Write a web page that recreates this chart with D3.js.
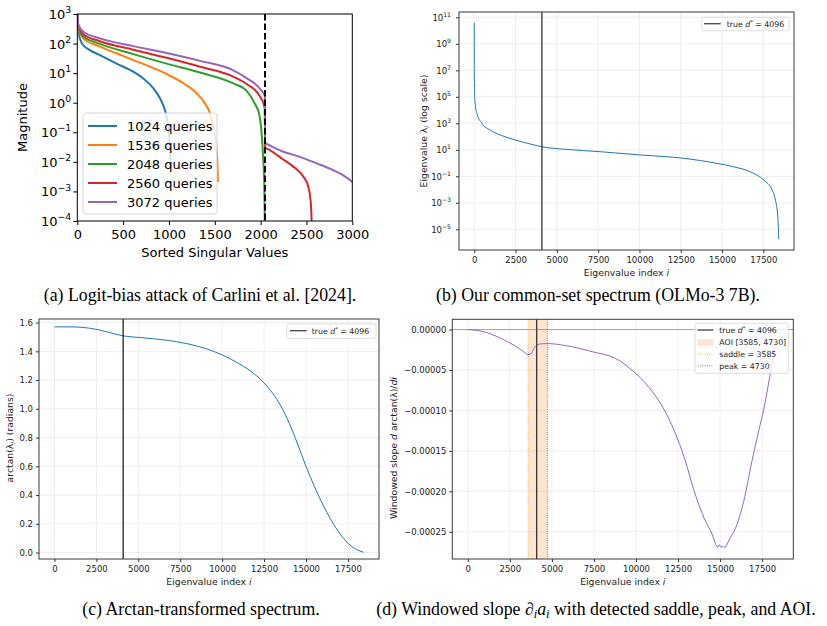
<!DOCTYPE html>
<html><head><meta charset="utf-8">
<script src="https://cdn.jsdelivr.net/npm/d3@7"></script>
<style>
body{margin:0;background:#fff}
svg{display:block}
text{font-family:"DejaVu Sans",sans-serif}
</style>
</head><body><script>
// ---------------- DATA ----------------
// Panel (a): Logit-bias attack, singular values vs index
const aXTicks = [0, 500, 1000, 1500, 2000, 2500, 3000];
const aYExps = [3, 2, 1, 0, -1, -2, -3, -4];
const aNames = ["1024 queries", "1536 queries", "2048 queries", "2560 queries", "3072 queries"];
const aColors = ["#1f77b4", "#ff7f0e", "#2ca02c", "#d62728", "#9467bd"];
const aThreshold = 2048;
const a1024 = [[0,1100],[4,420],[15,225],[47,105],[138,60],[247,41],[429,21],[611,11.2],[720,6.6],[829,3.1],[902,1.41],[956,0.56],[982,0.26],[1000,0.091],[1011,0.025],[1023,0.0063]];
const a1536 = [[0,1100],[4,460],[15,290],[65,150],[247,79],[429,47],[611,27.5],[793,16.6],[975,9.3],[1156,4.6],[1302,2.1],[1393,0.95],[1447,0.44],[1484,0.155],[1513,0.043],[1527,0.0115],[1535,0.0021]];
const a2048 = [[0,1100],[4,500],[15,330],[65,172],[247,98],[611,44],[975,21],[1338,10.5],[1702,4.5],[1847,2.5],[1931,1.0],[1985,0.4],[2011,0.091],[2029,0.0115],[2040,0.00145],[2047,0.00005]];
const a2560 = [[0,1100],[4,540],[15,375],[65,205],[247,120],[611,62],[975,33],[1338,16.5],[1702,7.6],[1847,4.3],[2000,1.5],[2045,0.65],[2049,0.031],[2100,0.025],[2247,0.012],[2356,0.0069],[2465,0.0032],[2520,0.00145],[2545,0.0005],[2556,0.0001],[2559,0.00003]];
const a3072 = [[0,1100],[4,600],[15,420],[65,250],[247,150],[611,82],[975,48],[1338,26],[1702,12.5],[1847,6.8],[2000,2.8],[2045,1.7],[2049,0.045],[2100,0.036],[2247,0.022],[2429,0.0148],[2611,0.0089],[2793,0.0052],[2902,0.0035],[3000,0.0021],[3072,0.0012]];
const aSeries = [a1024, a1536, a2048, a2560, a3072];

// Shared x ticks for (b),(c),(d)
const eigXTicks = [0, 2500, 5000, 7500, 10000, 12500, 15000, 17500];
const eigN = 18432;
const trueD = 4096;

// Panel (b): eigenvalue spectrum (log scale)
const bYExps = [11, 9, 7, 5, 3, 1, -1, -3, -5];
const bSpectrum = [[0,3.9e10],[1,1e10],[4,1e7],[15,1e6],[40,5.6e4],[162,5.6e3],[464,1000],[969,309],[1575,132],[2483,55],[3392,27.5],[4099,17],[5613,10.7],[7632,7.2],[10055,4.1],[12679,2.3],[14698,0.95],[15708,0.52],[16717,0.22],[17525,0.052],[18030,0.0093],[18232,0.0016],[18373,0.000089],[18432,0.0000018]];

// Panel (c): arctan-transformed spectrum
const cYTicks = [0.0, 0.2, 0.4, 0.6, 0.8, 1.0, 1.2, 1.4, 1.6];
const cArctan = [[0,1.570],[1150,1.570],[2140,1.560],[2735,1.547],[3528,1.523],[4122,1.507],[5114,1.496],[6699,1.477],[7888,1.454],[9000,1.420],[10000,1.375],[11000,1.315],[12000,1.235],[12500,1.180],[13000,1.110],[13500,1.020],[14000,0.900],[14500,0.755],[15000,0.600],[15500,0.460],[16000,0.335],[16500,0.225],[17000,0.135],[17500,0.065],[18000,0.022],[18432,0.002]];

// Panel (d): windowed slope
const dYTicks = [0, -0.00005, -0.0001, -0.00015, -0.0002, -0.00025];
const dYLabels = ["0.00000", "\u22120.00005", "\u22120.00010", "\u22120.00015", "\u22120.00020", "\u22120.00025"];
const dSaddle = 3585, dPeak = 4730;
const dSlope = [[0,0],[995,-0.0000029],[1989,-0.0000111],[2750,-0.0000194],[3335,-0.0000276],[3565,-0.0000309],[3764,-0.0000297],[3920,-0.0000235],[4156,-0.0000185],[4400,-0.0000176],[4746,-0.0000173],[5870,-0.0000200],[6700,-0.0000235],[7430,-0.0000275],[8795,-0.0000358],[9770,-0.0000503],[10745,-0.0000708],[11525,-0.0000935],[12305,-0.0001265],[12890,-0.0001594],[13475,-0.0002006],[14060,-0.0002336],[14547,-0.0002541],[14750,-0.000266],[14850,-0.0002695],[14950,-0.000266],[15050,-0.000269],[15200,-0.0002685],[15327,-0.000269],[15450,-0.000264],[15620,-0.000257],[15912,-0.0002459],[16400,-0.000213],[16887,-0.0001635],[17300,-0.000125],[17585,-0.0000997],[18086,-0.000042],[18300,-0.000016]];

// ---------------- DRAW ----------------
const W = 827, H = 626;
const svg = d3.select("body").append("svg").attr("width", W).attr("height", H);
const defs = svg.append("defs");
let clipId = 0;
function clip(box){
  const id = "clip" + (clipId++);
  defs.append("clipPath").attr("id", id).append("rect")
    .attr("x", box.l).attr("y", box.t).attr("width", box.r - box.l).attr("height", box.b - box.t);
  return "url(#" + id + ")";
}
function supLabel(g, x, y, exp, fs, anchor){
  const t = g.append("text").attr("x", x).attr("y", y).attr("text-anchor", anchor || "end")
    .attr("font-size", fs).attr("fill", "#000");
  t.append("tspan").text("10");
  t.append("tspan").attr("font-size", fs * 0.72).attr("dy", -fs * 0.45)
    .text(String(exp).replace("-", "\u2212"));
  return t;
}

// ===== Panel (a) =====
(function(){
  const box = {l:77.3, r:352.3, t:14, b:221};
  const x = d3.scaleLinear().domain([0, 3000]).range([box.l, box.r]);
  const y = d3.scaleLog().domain([1e-4, 1e3]).range([box.b, box.t]);
  const g = svg.append("g");
  const plot = g.append("g").attr("clip-path", clip(box));
  const line = d3.line().x(d => x(d[0])).y(d => y(d[1])).curve(d3.curveMonotoneX);
  aSeries.forEach((s, i) => {
    plot.append("path").attr("d", line(s)).attr("fill", "none")
      .attr("stroke", aColors[i]).attr("stroke-width", 2);
  });
  plot.append("line").attr("x1", x(aThreshold)).attr("x2", x(aThreshold))
    .attr("y1", box.t).attr("y2", box.b).attr("stroke", "#000")
    .attr("stroke-width", 2).attr("stroke-dasharray", "6.5,3");
  g.append("rect").attr("x", box.l).attr("y", box.t).attr("width", box.r - box.l)
    .attr("height", box.b - box.t).attr("fill", "none").attr("stroke", "#000").attr("stroke-width", 1);
  const xa = g.append("g").attr("transform", `translate(0,${box.b})`)
    .call(d3.axisBottom(x).tickValues(aXTicks).tickSize(4).tickPadding(5).tickFormat(d3.format("d")));
  xa.select(".domain").remove();
  xa.selectAll("text").attr("font-size", 13).attr("font-family", "DejaVu Sans").attr("fill", "#000");
  const ya = g.append("g").attr("transform", `translate(${box.l},0)`)
    .call(d3.axisLeft(y).tickValues(aYExps.map(e => Math.pow(10, e))).tickSize(4).tickFormat(""));
  ya.select(".domain").remove();
  aYExps.forEach(e => supLabel(g, box.l - 6, y(Math.pow(10, e)) + 5, e, 13));
  g.append("text").attr("x", (box.l + box.r) / 2).attr("y", 257).attr("text-anchor", "middle")
    .attr("font-size", 13).text("Sorted Singular Values");
  g.append("text").attr("transform", `translate(26.5,${(box.t + box.b) / 2}) rotate(-90)`)
    .attr("text-anchor", "middle").attr("font-size", 13).text("Magnitude");
  const lg = g.append("g");
  lg.append("rect").attr("x", 83).attr("y", 113).attr("width", 134).attr("height", 101)
    .attr("rx", 3).attr("fill", "#fff").attr("fill-opacity", 0.8).attr("stroke", "#ccc").attr("stroke-width", 0.8);
  aNames.forEach((n, i) => {
    const yy = 126 + i * 19;
    lg.append("line").attr("x1", 88).attr("x2", 117).attr("y1", yy).attr("y2", yy)
      .attr("stroke", aColors[i]).attr("stroke-width", 2);
    lg.append("text").attr("x", 127).attr("y", yy + 4.7).attr("font-size", 13).text(n);
  });
})();

function eigPanel(box){
  const x = d3.scaleLinear().domain([-eigN * 0.05, eigN * 1.05]).range([box.l, box.r]);
  const g = svg.append("g");
  const grid = g.append("g");
  eigXTicks.forEach(t => grid.append("line").attr("x1", x(t)).attr("x2", x(t))
    .attr("y1", box.t).attr("y2", box.b).attr("stroke", "#ebebeb").attr("stroke-width", 0.8));
  return {x, g, grid};
}
function eigAxes(p, box, xLabelY){
  const {x, g} = p;
  g.append("rect").attr("x", box.l).attr("y", box.t).attr("width", box.r - box.l)
    .attr("height", box.b - box.t).attr("fill", "none").attr("stroke", "#3a3a3a").attr("stroke-width", 1);
  const xa = g.append("g").attr("transform", `translate(0,${box.b})`)
    .call(d3.axisBottom(x).tickValues(eigXTicks).tickSize(3).tickPadding(4).tickFormat(d3.format("d")));
  xa.select(".domain").remove();
  xa.selectAll("line").attr("stroke", "#333");
  xa.selectAll("text").attr("font-size", 8.5).attr("font-family", "DejaVu Sans").attr("fill", "#222");
  const xl = g.append("text").attr("x", (box.l + box.r) / 2).attr("y", xLabelY)
    .attr("text-anchor", "middle").attr("font-size", 9.3).attr("fill", "#222");
  xl.append("tspan").text("Eigenvalue index ");
  xl.append("tspan").attr("font-style", "italic").text("i");
}
function legendBox(g, bx, by, bw, bh){
  g.append("rect").attr("x", bx).attr("y", by).attr("width", bw).attr("height", bh)
    .attr("rx", 2).attr("fill", "#fff").attr("fill-opacity", 0.8).attr("stroke", "#d5d5d5").attr("stroke-width", 0.8);
}
function trueText(g, x, y){
  const t = g.append("text").attr("x", x).attr("y", y).attr("font-size", 7.8).attr("fill", "#222");
  t.append("tspan").text("true ");
  t.append("tspan").attr("font-style", "italic").text("d");
  t.append("tspan").attr("font-size", 5.5).attr("dy", -3).text("*");
  t.append("tspan").attr("dy", 3).text(" = " + trueD);
}

// ===== Panel (b) =====
(function(){
  const box = {l:459, r:794, t:12, b:250};
  const y = d3.scaleLog().domain([Math.pow(10, -6.56), Math.pow(10, 11.4)]).range([box.b, box.t]);
  const p = eigPanel(box);
  bYExps.forEach(e => p.grid.append("line").attr("x1", box.l).attr("x2", box.r)
    .attr("y1", y(Math.pow(10, e))).attr("y2", y(Math.pow(10, e))).attr("stroke", "#ebebeb").attr("stroke-width", 0.8));
  const plot = p.g.append("g").attr("clip-path", clip(box));
  const line = d3.line().x(d => p.x(d[0])).y(d => y(d[1])).curve(d3.curveMonotoneX);
  plot.append("path").attr("d", line(bSpectrum)).attr("fill", "none").attr("stroke", "#1f77b4").attr("stroke-width", 1);
  plot.append("line").attr("x1", p.x(trueD)).attr("x2", p.x(trueD)).attr("y1", box.t).attr("y2", box.b)
    .attr("stroke", "#333").attr("stroke-width", 1.3);
  eigAxes(p, box, 276);
  const ya = p.g.append("g").attr("transform", `translate(${box.l},0)`)
    .call(d3.axisLeft(y).tickValues(bYExps.map(e => Math.pow(10, e))).tickSize(3).tickFormat(""));
  ya.select(".domain").remove();
  ya.selectAll("line").attr("stroke", "#333");
  bYExps.forEach(e => supLabel(p.g, box.l - 8, y(Math.pow(10, e)) + 3.5, e, 8.5).attr("fill", "#222"));
  const yl = p.g.append("text").attr("transform", `translate(427,131) rotate(-90)`)
    .attr("text-anchor", "middle").attr("font-size", 9.3).attr("fill", "#222");
  yl.append("tspan").text("Eigenvalue \u03bb");
  yl.append("tspan").attr("font-style", "italic").attr("font-size", 6.5).attr("dy", 2).text("i");
  yl.append("tspan").attr("dy", -2).text(" (log scale)");
  legendBox(p.g, 701.7, 17.3, 87.6, 13.4);
  p.g.append("line").attr("x1", 704).attr("x2", 720.7).attr("y1", 23.7).attr("y2", 23.7).attr("stroke", "#444").attr("stroke-width", 1.3);
  trueText(p.g, 726.7, 26.6);
})();

// ===== Panel (c) =====
(function(){
  const box = {l:39, r:379, t:319, b:559};
  const y = d3.scaleLinear().domain([-0.045, 1.625]).range([box.b, box.t]);
  const p = eigPanel(box);
  cYTicks.forEach(v => p.grid.append("line").attr("x1", box.l).attr("x2", box.r)
    .attr("y1", y(v)).attr("y2", y(v)).attr("stroke", "#ebebeb").attr("stroke-width", 0.8));
  const plot = p.g.append("g").attr("clip-path", clip(box));
  const line = d3.line().x(d => p.x(d[0])).y(d => y(d[1])).curve(d3.curveMonotoneX);
  plot.append("path").attr("d", line(cArctan)).attr("fill", "none").attr("stroke", "#1f77b4").attr("stroke-width", 1);
  plot.append("line").attr("x1", p.x(trueD)).attr("x2", p.x(trueD)).attr("y1", box.t).attr("y2", box.b)
    .attr("stroke", "#222").attr("stroke-width", 1.3);
  eigAxes(p, box, 584.5);
  const ya = p.g.append("g").attr("transform", `translate(${box.l},0)`)
    .call(d3.axisLeft(y).tickValues(cYTicks).tickSize(3).tickPadding(3).tickFormat(d3.format(".1f")));
  ya.select(".domain").remove();
  ya.selectAll("line").attr("stroke", "#333");
  ya.selectAll("text").attr("font-size", 8.5).attr("font-family", "DejaVu Sans").attr("fill", "#222");
  const yl = p.g.append("text").attr("transform", `translate(13,438) rotate(-90)`)
    .attr("text-anchor", "middle").attr("font-size", 9.3).attr("fill", "#222");
  yl.append("tspan").text("arctan(\u03bb");
  yl.append("tspan").attr("font-style", "italic").attr("font-size", 6.5).attr("dy", 2).text("i");
  yl.append("tspan").attr("dy", -2).text(") (radians)");
  legendBox(p.g, 286.7, 324, 89.3, 14.3);
  p.g.append("line").attr("x1", 290).attr("x2", 306.7).attr("y1", 330.7).attr("y2", 330.7).attr("stroke", "#444").attr("stroke-width", 1.3);
  trueText(p.g, 311.7, 333.6);
})();

// ===== Panel (d) =====
(function(){
  const box = {l:452.3, r:793.3, t:319.3, b:559};
  const y = d3.scaleLinear().domain([-0.0002837, 0.0000127]).range([box.b, box.t]);
  const p = eigPanel(box);
  dYTicks.forEach(v => p.grid.append("line").attr("x1", box.l).attr("x2", box.r)
    .attr("y1", y(v)).attr("y2", y(v)).attr("stroke", "#ebebeb").attr("stroke-width", 0.8));
  const plot = p.g.append("g").attr("clip-path", clip(box));
  plot.append("rect").attr("x", p.x(dSaddle)).attr("y", box.t).attr("width", p.x(dPeak) - p.x(dSaddle))
    .attr("height", box.b - box.t).attr("fill", "#ff7f0e").attr("fill-opacity", 0.2);
  plot.append("line").attr("x1", box.l).attr("x2", box.r).attr("y1", y(0)).attr("y2", y(0))
    .attr("stroke", "#999").attr("stroke-width", 0.9);
  plot.append("line").attr("x1", p.x(dSaddle)).attr("x2", p.x(dSaddle)).attr("y1", box.t).attr("y2", box.b)
    .attr("stroke", "#d9c24a").attr("stroke-width", 1).attr("stroke-dasharray", "1,1.3");
  plot.append("line").attr("x1", p.x(dPeak)).attr("x2", p.x(dPeak)).attr("y1", box.t).attr("y2", box.b)
    .attr("stroke", "#c8645a").attr("stroke-width", 1).attr("stroke-dasharray", "1,1.3");
  const line = d3.line().x(d => p.x(d[0])).y(d => y(d[1])).curve(d3.curveMonotoneX);
  plot.append("path").attr("d", line(dSlope)).attr("fill", "none").attr("stroke", "#9467bd").attr("stroke-width", 1);
  plot.append("line").attr("x1", p.x(trueD)).attr("x2", p.x(trueD)).attr("y1", box.t).attr("y2", box.b)
    .attr("stroke", "#333").attr("stroke-width", 1.3);
  eigAxes(p, box, 584.5);
  const ya = p.g.append("g").attr("transform", `translate(${box.l},0)`)
    .call(d3.axisLeft(y).tickValues(dYTicks).tickSize(3).tickPadding(3).tickFormat((d, i) => dYLabels[i]));
  ya.select(".domain").remove();
  ya.selectAll("line").attr("stroke", "#333");
  ya.selectAll("text").attr("font-size", 8.5).attr("font-family", "DejaVu Sans").attr("fill", "#222");
  const yl = p.g.append("text").attr("transform", `translate(397,448) rotate(-90)`)
    .attr("text-anchor", "middle").attr("font-size", 9.3).attr("fill", "#222");
  yl.append("tspan").text("Windowed slope ");
  yl.append("tspan").attr("font-style", "italic").text("d");
  yl.append("tspan").text(" arctan(\u03bb)/");
  yl.append("tspan").attr("font-style", "italic").text("di");
  legendBox(p.g, 695, 323.3, 93.3, 50);
  const lx1 = 697.5, lx2 = 713.3, tx = 719.3;
  const rows = [330, 342.4, 354.2, 365.8];
  p.g.append("line").attr("x1", lx1).attr("x2", lx2).attr("y1", rows[0]).attr("y2", rows[0]).attr("stroke", "#444").attr("stroke-width", 1.3);
  trueText(p.g, tx, rows[0] + 2.8);
  p.g.append("rect").attr("x", lx1).attr("y", rows[1] - 3.3).attr("width", lx2 - lx1).attr("height", 6.6)
    .attr("fill", "#ff7f0e").attr("fill-opacity", 0.2);
  p.g.append("text").attr("x", tx).attr("y", rows[1] + 2.8).attr("font-size", 7.8).attr("fill", "#222").text(`AOI [${dSaddle}, ${dPeak}]`);
  p.g.append("line").attr("x1", lx1).attr("x2", lx2).attr("y1", rows[2]).attr("y2", rows[2])
    .attr("stroke", "#d9c24a").attr("stroke-width", 1).attr("stroke-dasharray", "1,1.3");
  p.g.append("text").attr("x", tx).attr("y", rows[2] + 2.8).attr("font-size", 7.8).attr("fill", "#222").text(`saddle = ${dSaddle}`);
  p.g.append("line").attr("x1", lx1).attr("x2", lx2).attr("y1", rows[3]).attr("y2", rows[3])
    .attr("stroke", "#c8645a").attr("stroke-width", 1).attr("stroke-dasharray", "1,1.3");
  p.g.append("text").attr("x", tx).attr("y", rows[3] + 2.8).attr("font-size", 7.8).attr("fill", "#222").text(`peak = ${dPeak}`);
})();

// ===== Captions =====
const capFont = "'Liberation Serif','Times New Roman',serif";
function caption(x, y){
  return svg.append("text").attr("x", x).attr("y", y).attr("text-anchor", "middle")
    .attr("font-size", 17.8).attr("fill", "#000").style("font-family", capFont);
}
caption(200, 301).text("(a) Logit-bias attack of Carlini et al. [2024].");
caption(598, 301).text("(b) Our common-set spectrum (OLMo-3 7B).");
caption(201, 615).text("(c) Arctan-transformed spectrum.");
const cd = caption(596, 615);
cd.append("tspan").text("(d) Windowed slope ");
cd.append("tspan").attr("font-style", "italic").text("\u2202");
cd.append("tspan").attr("font-style", "italic").attr("font-size", 12.5).attr("dy", 3).text("i");
cd.append("tspan").attr("font-style", "italic").attr("dy", -3).text("a");
cd.append("tspan").attr("font-style", "italic").attr("font-size", 12.5).attr("dy", 3).text("i");
cd.append("tspan").attr("dy", -3).text(" with detected saddle, peak, and AOI.");
</script></body></html>
